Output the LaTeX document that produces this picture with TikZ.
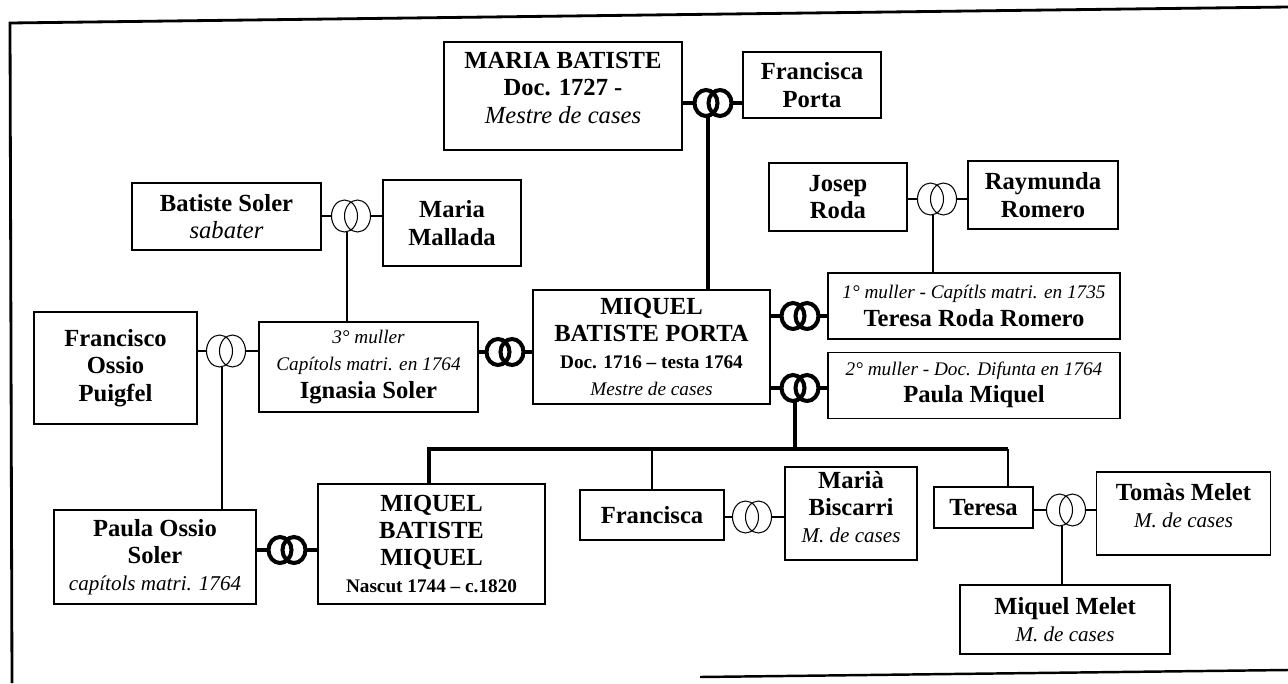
\documentclass[tikz,border=0pt,12pt]{standalone}
\usepackage{fontspec}
\setmainfont{Liberation Serif}
\usetikzlibrary{positioning}

\begin{document}
\begin{tikzpicture}[
    x=0.02cm, y=-0.02cm,
    box/.style={draw,line width=0.7pt,align=center,inner sep=1pt,font=\fontsize{14}{15.5}\selectfont\bfseries},
    bond/.style={line width=2.3pt},
    link/.style={line width=0.6pt},
    wed/.pic={
      \draw[line width=2.3pt] (-7,0) ellipse[x radius=11.5, y radius=13] (7,0) ellipse[x radius=11.5, y radius=13];
      \coordinate (-w) at (-18.5,0); \coordinate (-e) at (18.5,0); \coordinate (-s) at (-5,12.8);
    },
    wedthin/.pic={
      \draw[line width=0.6pt] (-6.5,0) ellipse[x radius=13, y radius=16] (6.5,0) ellipse[x radius=13, y radius=16];
      \coordinate (-w) at (-19.5,0); \coordinate (-e) at (19.5,0); \coordinate (-s) at (-4,15.7);
    }
  ]
    \useasboundingbox (0,0) rectangle (1288,683);
    % page frame
    \draw[line width=1.6pt] (12,683) -- (10,23) -- (1288,7);
    \draw[line width=1.4pt] (700,677) -- (1288,670);

    % parents of Miquel
    \node[box, minimum width=4.76cm, minimum height=2.16cm] (maria) at (563,96) {MARIA BATISTE\\Doc. 1727 -\\{\normalfont\itshape Mestre de cases}\\[-6pt]\mbox{}};
    \node[box, minimum width=2.76cm, minimum height=1.32cm] (fporta) at (812,85) {Francisca\\Porta};
    \pic (r1) at (713,103) {wed};

    % parents of Teresa
    \node[box, minimum width=2.76cm, minimum height=1.36cm] (jroda) at (838,197) {Josep\\Roda};
    \node[box, minimum width=3.0cm, minimum height=1.36cm] (raym) at (1043,195) {Raymunda\\Romero};
    \pic (r2) at (937,199) {wedthin};

    % parents of Ignasia
    \node[box, minimum width=3.78cm, minimum height=1.34cm] (bsoler) at (226.5,216.5) {Batiste Soler\\{\normalfont\itshape sabater}};
    \node[box, minimum width=2.76cm, minimum height=1.72cm] (mmallada) at (452,223) {Maria\\Mallada};
    \pic (r5) at (351,216) {wedthin};
    \node[box, minimum width=3.26cm, minimum height=2.24cm] (fossio) at (115.5,368) {Francisco\\Ossio\\Puigfel};
    \pic (r7) at (226,351) {wedthin};

    % Miquel and his three wives
    \node[box, minimum width=4.74cm, minimum height=2.28cm] (mbp) at (651.5,347) {MIQUEL\\BATISTE PORTA\\{\small Doc. 1716 -- testa 1764}\\{\small\normalfont\itshape Mestre de cases}};
    \node[box, minimum width=5.84cm, minimum height=1.32cm] (troda) at (974,306) {{\small\normalfont\itshape 1° muller - Capítls matri. en 1735}\\Teresa Roda Romero};
    \node[box, minimum width=5.84cm, minimum height=1.32cm, below=0.24cm of troda] (pmiq) {{\small\normalfont\itshape 2° muller - Doc. Difunta en 1764}\\Paula Miquel};
    \node[box, minimum width=4.38cm, minimum height=1.8cm] (ignasia) at (368.5,367) {{\small\normalfont\itshape 3° muller}\\{\small\normalfont\itshape Capítols matri. en 1764}\\Ignasia Soler};
    \pic (r3) at (800,316) {wed};
    \pic (r4) at (800,388) {wed};
    \pic (r6) at (505,352) {wed};

    % children
    \node[box, minimum width=4.04cm, minimum height=1.88cm] (possio) at (155,557) {Paula Ossio\\Soler\\{\normalsize\normalfont\itshape capítols matri. 1764}};
    \node[box, minimum width=4.54cm, minimum height=2.4cm] (mbm) at (431.5,544) {MIQUEL\\BATISTE\\MIQUEL\\{\small Nascut 1744 -- c.1820}};
    \pic (r8) at (287,550) {wed};
    \node[box, minimum width=2.88cm, minimum height=1.0cm] (francisca) at (652,515) {Francisca};
    \node[box, minimum width=2.64cm, minimum height=1.86cm] (mbiscarri) at (851,513.5) {Marià\\Biscarri\\{\normalsize\normalfont\itshape M. de cases}\\[-8pt]\mbox{}};
    \pic (r9) at (752,517) {wedthin};
    \node[box, minimum width=1.98cm, minimum height=0.82cm] (teresa) at (983.5,507.5) {Teresa};
    \node[box, minimum width=3.48cm, minimum height=1.66cm] (tomas) at (1183.5,513.5) {Tomàs Melet\\{\normalsize\normalfont\itshape M. de cases}\\[-6pt]\mbox{}};
    \pic (r10) at (1066,510) {wedthin};
    \node[box, minimum width=4.2cm, minimum height=1.38cm] (mmelet) at (1065,619.5) {Miquel Melet\\{\normalsize\normalfont\itshape M. de cases}};
    \coordinate (barL) at (429,449);
    \coordinate (barR) at (1008,449);

    % Connectors
    \draw[bond] (maria.east |- r1-w) -- (r1-w);
    \draw[bond] (r1-e) -- (r1-e -| fporta.west);
    \draw[bond] (r1-s) -- (r1-s |- mbp.north);
    \draw[link] (jroda.east |- r2-w) -- (r2-w);
    \draw[link] (r2-e) -- (r2-e -| raym.west);
    \draw[link] (r2-s) -- (r2-s |- troda.north);
    \draw[link] (bsoler.east |- r5-w) -- (r5-w);
    \draw[link] (r5-e) -- (r5-e -| mmallada.west);
    \draw[link] (r5-s) -- (r5-s |- ignasia.north);
    \draw[link] (fossio.east |- r7-w) -- (r7-w);
    \draw[link] (r7-e) -- (r7-e -| ignasia.west);
    \draw[link] (r7-s) -- (r7-s |- possio.north);
    \draw[bond] (ignasia.east |- r6-w) -- (r6-w);
    \draw[bond] (r6-e) -- (r6-e -| mbp.west);
    \draw[bond] (mbp.east |- r3-w) -- (r3-w);
    \draw[bond] (r3-e) -- (r3-e -| troda.west);
    \draw[bond] (mbp.east |- r4-w) -- (r4-w);
    \draw[bond] (r4-e) -- (r4-e -| pmiq.west);
    \draw[bond] (r4-s) -- (r4-s |- barL);
    \draw[bond] (barL |- mbm.north) -- (barL) -- (barR);
    \draw[link] (francisca.north |- barL) -- (francisca.north);
    \draw[link] (barR) -- (barR |- teresa.north);
    \draw[bond] (possio.east |- r8-w) -- (r8-w);
    \draw[bond] (r8-e) -- (r8-e -| mbm.west);
    \draw[link] (francisca.east |- r9-w) -- (r9-w);
    \draw[link] (r9-e) -- (r9-e -| mbiscarri.west);
    \draw[link] (teresa.east |- r10-w) -- (r10-w);
    \draw[link] (r10-e) -- (r10-e -| tomas.west);
    \draw[link] (r10-s) -- (r10-s |- mmelet.north);
  \end{tikzpicture}
\end{document}
